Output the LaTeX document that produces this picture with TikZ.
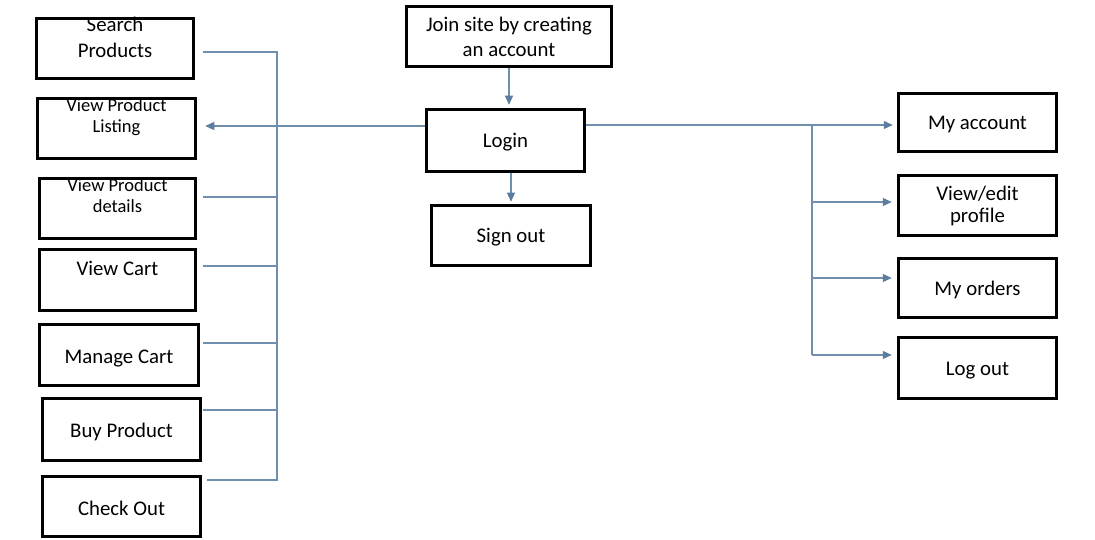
\documentclass[tikz,border=0pt]{standalone}
\usepackage{fontspec}
\setmainfont{Carlito}
\usetikzlibrary{arrows.meta}
\definecolor{linec}{RGB}{112,142,174}
\definecolor{tipc}{RGB}{92,124,160}
\begin{document}
\begin{tikzpicture}[x=1pt,y=-1pt,
  box/.style={draw=black, line width=3.5pt, inner xsep=0pt, inner ysep=0pt,
    anchor=base, align=center, font=\fontsize{20.8}{24.5}\selectfont},
  smallbox/.style={box, font=\fontsize{18.5}{21}\selectfont},
  conn/.style={draw=linec, line width=1.2pt},
  arr/.style={conn, -{Triangle[length=9pt,width=8pt,color=tipc]}}]
\fill[white] (0,0) rectangle (1095,540);
\useasboundingbox (0,0) rectangle (1095,540);

% left column
\node[box, minimum width=157pt, text height=39.5pt, text depth=20.5pt,
  font=\fontsize{20.8}{26}\selectfont] (search) at (115,58) {Search\\Products};
\node[smallbox, minimum width=158pt, text height=34.5pt, text depth=25.5pt] (listing) at (116.5,133) {View Product\\Listing};
\node[smallbox, minimum width=156pt, text height=34.5pt, text depth=25.5pt] (details) at (117.5,213) {View Product\\details};
\node[box, minimum width=156pt, text height=25.5pt, text depth=35.5pt] (cart) at (117.5,275) {View Cart};
\node[box, minimum width=159pt, text height=38.5pt, text depth=22.5pt] (manage) at (119,363) {Manage Cart};
\node[box, minimum width=158pt, text height=38.5pt, text depth=23.5pt] (buy) at (121.5,437) {Buy Product};
\node[box, minimum width=158pt, text height=38.5pt, text depth=21.5pt] (checkout) at (121.5,515) {Check Out};

% centre column
\node[box, minimum width=205pt, text height=50.5pt, text depth=9.5pt,
  font=\fontsize{20.8}{25}\selectfont] (join) at (509,57) {Join site by creating\\an account};
\node[box, minimum width=158pt, text height=38.5pt, text depth=23.5pt] (login) at (505.5,148) {Login};
\node[box, minimum width=159pt, text height=37.5pt, text depth=22.5pt] (signout) at (511,243) {Sign out};

% right column
\node[box, minimum width=158pt, text height=36.5pt, text depth=21.5pt] (myacc) at (977.5,130) {My account};
\node[box, minimum width=158pt, text height=47.5pt, text depth=12.5pt,
  font=\fontsize{20.8}{23}\selectfont] (profile) at (977.5,223) {View/edit\\profile};
\node[box, minimum width=158pt, text height=36.5pt, text depth=22.5pt] (orders) at (977.5,295) {My orders};
\node[box, minimum width=158pt, text height=37.5pt, text depth=23.5pt] (logout) at (977.5,375) {Log out};

% left bus
\coordinate (lb0) at (277,52);
\coordinate (lb1) at (277,197);
\coordinate (lb2) at (277,266);
\coordinate (lb3) at (277,343);
\coordinate (lb4) at (277,410);
\coordinate (lb5) at (277,480);
\draw[conn] ([xshift=8pt]search.east |- lb0) -- (lb0) -- (lb5) -- ([xshift=5pt]checkout.east |- lb5);
\draw[conn] ([xshift=6pt]details.east |- lb1) -- (lb1);
\draw[conn] ([xshift=6pt]cart.east |- lb2) -- (lb2);
\draw[conn] ([xshift=3pt]manage.east |- lb3) -- (lb3);
\draw[conn] ([xshift=1pt]buy.east |- lb4) -- (lb4);

% centre arrows
\draw[arr] (join.south) -- ([yshift=3pt]join.south |- login.north);
\draw[arr] (signout.north |- login.south) -- ([yshift=2pt]signout.north);
\coordinate (lw) at ([yshift=14.5pt]login.west);
\draw[arr] (lw) -- ([xshift=8pt]listing.east |- lw);

% right bus
\coordinate (rb0) at (812,125);
\coordinate (rb1) at (812,202);
\coordinate (rb2) at (812,278);
\coordinate (rb3) at (812,355);
\draw[arr] (login.east |- rb0) -- ([xshift=-4pt]myacc.west |- rb0);
\draw[conn] (rb0) -- (rb3);
\draw[arr] (rb1) -- ([xshift=-5pt]profile.west |- rb1);
\draw[arr] (rb2) -- ([xshift=-5pt]orders.west |- rb2);
\draw[arr] (rb3) -- ([xshift=-5pt]logout.west |- rb3);
\end{tikzpicture}
\end{document}
